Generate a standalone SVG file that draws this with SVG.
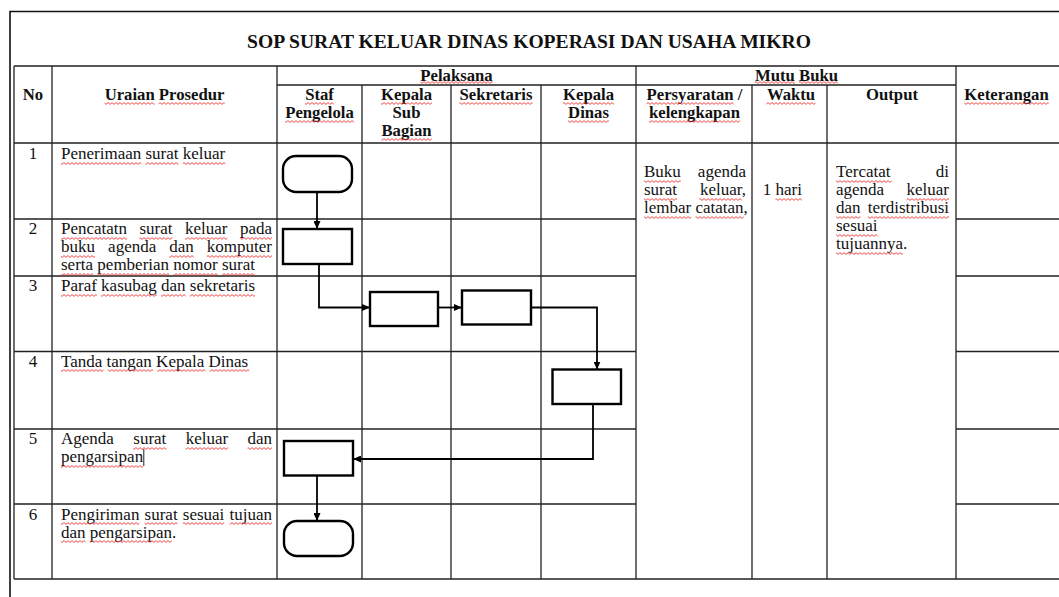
<svg xmlns="http://www.w3.org/2000/svg" width="1059" height="597" viewBox="0 0 1059 597">
<style>
.bg{fill:#fff}
.frame{fill:none;stroke:#111;stroke-width:1.6}
.grid{fill:none;stroke:#222;stroke-width:1.3}
.shape{fill:#fff;stroke:#000;stroke-width:2.4}
.conn{fill:none;stroke:#000;stroke-width:1.8}
.t{font-family:"Liberation Serif","Times New Roman",serif;font-size:17px;fill:#111}
.h{font-family:"Liberation Serif","Times New Roman",serif;font-size:16.7px;font-weight:bold;fill:#111}
.title{font-family:"Liberation Serif","Times New Roman",serif;font-size:19.6px;font-weight:bold;fill:#111}
.m{text-anchor:middle}
.e{text-anchor:end}
.sq{fill:url(#wave)}
</style>
<defs>
<pattern id="wave" width="4" height="3" patternUnits="userSpaceOnUse">
<path d="M0,0.6 L2,2.4 L4,0.6" fill="none" stroke="#ee3333" stroke-width="0.9"/>
</pattern>
<marker id="arr" markerUnits="userSpaceOnUse" markerWidth="8" markerHeight="7" refX="8" refY="3.5" orient="auto">
<path d="M0,0 L8,3.5 L0,7 z" fill="#000"/>
</marker>
</defs>
<rect class="bg" x="0" y="0" width="1059" height="597"/>
<path class="frame" d="M10,598 V11.5 H1060"/>
<text class="title m" x="529" y="48">SOP SURAT KELUAR DINAS KOPERASI DAN USAHA MIKRO</text>

<g id="table-grid">
<path class="grid" d="M14,66 H1060 M14,143 H1060 M14,579 H1060 M14,66 V579 M52,66 V579 M277,66 V579 M636,66 V579 M956,66 V579"/>
<path class="grid" d="M277,85 H956 M362,85 V579 M451,85 V579 M541,85 V579 M752,85 V579 M827,85 V579"/>
<path class="grid" d="M14,219 H636 M14,276 H636 M14,351.5 H636 M14,429 H636 M14,504 H636 M956,219 H1060 M956,276 H1060 M956,351.5 H1060 M956,429 H1060 M956,504 H1060"/>
</g>

<g id="header">
<text class="h m" x="33" y="100">No</text>
<text class="h m" x="164.5" y="100">Uraian Prosedur</text>
<text class="h m" x="456.5" y="80.5">Pelaksana</text>
<text class="h m" x="319.5" y="100">Staf</text>
<text class="h m" x="319.5" y="118">Pengelola</text>
<text class="h m" x="406.5" y="100">Kepala</text>
<text class="h m" x="406.5" y="118">Sub</text>
<text class="h m" x="406.5" y="136">Bagian</text>
<text class="h m" x="496" y="100">Sekretaris</text>
<text class="h m" x="588.5" y="100">Kepala</text>
<text class="h m" x="588.5" y="118">Dinas</text>
<text class="h m" x="796.5" y="80.5">Mutu Buku</text>
<text class="h m" x="694.5" y="100">Persyaratan /</text>
<text class="h m" x="694.5" y="118">kelengkapan</text>
<text class="h m" x="791" y="100">Waktu</text>
<text class="h m" x="892" y="100">Output</text>
<text class="h m" x="1006.5" y="100">Keterangan</text>
</g>

<g id="rows-text">
<text class="t m" x="33" y="159">1</text>
<text class="t" x="61" y="159">Penerimaan surat keluar</text>
<text class="t m" x="33" y="234">2</text>
<text class="t" x="61" y="234">Pencatatn</text><text class="t" x="139.5" y="234">surat</text><text class="t" x="184.9" y="234">keluar</text><text class="t e" x="272" y="234">pada</text>
<text class="t" x="61" y="252">buku</text><text class="t" x="108.1" y="252">agenda</text><text class="t" x="169.3" y="252">dan</text><text class="t e" x="272" y="252">komputer</text>
<text class="t" x="61" y="270">serta pemberian nomor surat</text>
<text class="t m" x="33" y="291">3</text>
<text class="t" x="61" y="291">Paraf kasubag dan sekretaris</text>
<text class="t m" x="33" y="367">4</text>
<text class="t" x="61" y="367">Tanda tangan Kepala Dinas</text>
<text class="t m" x="33" y="444">5</text>
<text class="t" x="61" y="444">Agenda</text><text class="t" x="133.3" y="444">surat</text><text class="t" x="185.7" y="444">keluar</text><text class="t e" x="272" y="444">dan</text>
<text class="t" x="61" y="462">pengarsipan</text>
<line x1="143.8" y1="449" x2="143.8" y2="466" stroke="#222" stroke-width="1"/>
<text class="t m" x="33" y="520">6</text>
<text class="t" x="61" y="520">Pengiriman</text><text class="t" x="144.6" y="520">surat</text><text class="t" x="182.8" y="520">sesuai</text><text class="t e" x="272" y="520">tujuan</text>
<text class="t" x="61" y="538">dan pengarsipan.</text>

<text class="t" x="644" y="177">Buku</text><text class="t e" x="746" y="177">agenda</text>
<text class="t" x="644" y="195">surat</text><text class="t e" x="746" y="195">keluar,</text>
<text class="t" x="644" y="213">lembar catatan,</text>
<text class="t" x="762.7" y="195">1 hari</text>
<text class="t" x="836" y="177">Tercatat</text><text class="t e" x="949" y="177">di</text>
<text class="t" x="836" y="195">agenda</text><text class="t e" x="949" y="195">keluar</text>
<text class="t" x="836" y="213">dan</text><text class="t e" x="949" y="213">terdistribusi</text>
<text class="t" x="836" y="231">sesuai</text>
<text class="t" x="836" y="249">tujuannya.</text>
</g>

<g id="spelling-marks">
<rect class="sq" x="104.5" y="102" width="50" height="3"/>
<rect class="sq" x="158.7" y="102" width="66" height="3"/>
<rect class="sq" x="420.3" y="81" width="72.4" height="3"/>
<rect class="sq" x="305.1" y="102" width="28.8" height="3"/>
<rect class="sq" x="285.2" y="120" width="68.7" height="3"/>
<rect class="sq" x="381" y="102" width="51" height="3"/>
<rect class="sq" x="381.5" y="138" width="50.1" height="3"/>
<rect class="sq" x="459.4" y="102" width="73.3" height="3"/>
<rect class="sq" x="563" y="102" width="51" height="3"/>
<rect class="sq" x="568.1" y="120" width="40.8" height="3"/>
<rect class="sq" x="755" y="81" width="39.9" height="3"/>
<rect class="sq" x="799" y="81" width="39" height="3"/>
<rect class="sq" x="646.5" y="102" width="87.2" height="3"/>
<rect class="sq" x="649" y="120" width="90.9" height="3"/>
<rect class="sq" x="766.4" y="102" width="49.2" height="3"/>
<rect class="sq" x="964.3" y="102" width="84.4" height="3"/>

<rect class="sq" x="61" y="162" width="80.3" height="3"/>
<rect class="sq" x="145.5" y="162" width="33" height="3"/>
<rect class="sq" x="182.8" y="162" width="42.5" height="3"/>
<rect class="sq" x="61" y="237" width="66.1" height="3"/>
<rect class="sq" x="139.5" y="237" width="33" height="3"/>
<rect class="sq" x="184.9" y="237" width="42.5" height="3"/>
<rect class="sq" x="239.9" y="237" width="32.1" height="3"/>
<rect class="sq" x="61" y="255" width="34" height="3"/>
<rect class="sq" x="169.3" y="255" width="24.5" height="3"/>
<rect class="sq" x="206.8" y="255" width="65.2" height="3"/>
<rect class="sq" x="61" y="273" width="32.1" height="3"/>
<rect class="sq" x="97.4" y="273" width="71.8" height="3"/>
<rect class="sq" x="173.4" y="273" width="44.4" height="3"/>
<rect class="sq" x="222" y="273" width="33" height="3"/>
<rect class="sq" x="61" y="294" width="35.9" height="3"/>
<rect class="sq" x="101.2" y="294" width="55.7" height="3"/>
<rect class="sq" x="161.1" y="294" width="24.5" height="3"/>
<rect class="sq" x="189.9" y="294" width="65.1" height="3"/>
<rect class="sq" x="61" y="369" width="42.5" height="3"/>
<rect class="sq" x="107.8" y="369" width="45.3" height="3"/>
<rect class="sq" x="157.3" y="369" width="48.1" height="3"/>
<rect class="sq" x="209.7" y="369" width="39.7" height="3"/>
<rect class="sq" x="133.3" y="447" width="33" height="3"/>
<rect class="sq" x="185.7" y="447" width="42.5" height="3"/>
<rect class="sq" x="247.5" y="447" width="24.5" height="3"/>
<rect class="sq" x="61" y="465" width="82.1" height="3"/>
<rect class="sq" x="61" y="522" width="78.4" height="3"/>
<rect class="sq" x="144.6" y="522" width="33" height="3"/>
<rect class="sq" x="182.8" y="522" width="41.5" height="3"/>
<rect class="sq" x="229.5" y="522" width="42.5" height="3"/>
<rect class="sq" x="61" y="540" width="24.5" height="3"/>
<rect class="sq" x="89.8" y="540" width="82.1" height="3"/>

<rect class="sq" x="644" y="180" width="36.8" height="3"/>
<rect class="sq" x="644" y="198" width="33" height="3"/>
<rect class="sq" x="699.3" y="198" width="42.5" height="3"/>
<rect class="sq" x="644" y="216" width="47.2" height="3"/>
<rect class="sq" x="695.5" y="216" width="48.1" height="3"/>
<rect class="sq" x="775.5" y="198" width="26.4" height="3"/>
<rect class="sq" x="836" y="180" width="55.7" height="3"/>
<rect class="sq" x="906.5" y="198" width="42.5" height="3"/>
<rect class="sq" x="836" y="216" width="24.5" height="3"/>
<rect class="sq" x="867.8" y="216" width="81.2" height="3"/>
<rect class="sq" x="836" y="234" width="41.5" height="3"/>
<rect class="sq" x="836" y="252" width="67" height="3"/>
</g>

<g id="connectors">
<path class="conn" d="M317,192 V229" marker-end="url(#arr)"/>
<path class="conn" d="M319,264 V307.5 H370" marker-end="url(#arr)"/>
<path class="conn" d="M438,307.5 H462" marker-end="url(#arr)"/>
<path class="conn" d="M531,307.5 H597 V369.5" marker-end="url(#arr)"/>
<path class="conn" d="M593,404 V459 H353" marker-end="url(#arr)"/>
<path class="conn" d="M317,475.5 V521" marker-end="url(#arr)"/>
</g>

<g id="node-start"><rect class="shape" x="283" y="156" width="69" height="36" rx="13"/></g>
<g id="node-pencatatan"><rect class="shape" x="283" y="229" width="69" height="35"/></g>
<g id="node-paraf-kasubag"><rect class="shape" x="370" y="292" width="68" height="34"/></g>
<g id="node-paraf-sekretaris"><rect class="shape" x="462" y="290.5" width="69" height="34"/></g>
<g id="node-ttd-kadis"><rect class="shape" x="552.5" y="369.5" width="68.5" height="34.5"/></g>
<g id="node-agenda"><rect class="shape" x="284" y="441" width="69" height="34.5"/></g>
<g id="node-end"><rect class="shape" x="284" y="521" width="69" height="35" rx="13"/></g>
</svg>
